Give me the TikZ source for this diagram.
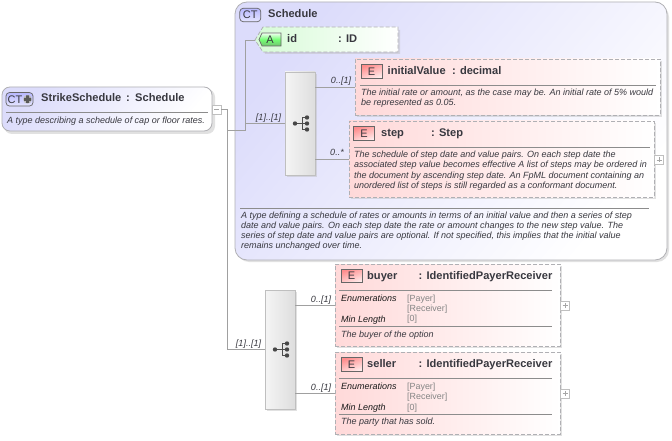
\documentclass[tikz,border=0pt]{standalone}
\usepackage{fontspec}
\setmainfont{Liberation Sans}
\usetikzlibrary{shapes.misc,calc}
\definecolor{edge}{HTML}{B0B0B4}
\definecolor{wire}{HTML}{A0A0A0}
\definecolor{ink}{HTML}{38383F}
\definecolor{lav}{HTML}{DCDCFB}
\definecolor{pinkb}{HTML}{FFD9D9}
\definecolor{mint}{HTML}{D6FBD6}
\tikzset{
 x=1pt,y=-1pt,
 boxbase/.style={anchor=north west,inner sep=0pt,outer sep=0pt},
 shade1/.style={fill=black!28,draw=none,opacity=.42},
 ctbox/.style={boxbase,draw=edge,line width=.8pt,rounded corners=8pt,left color=lav,middle color=lav!70,right color=white,shading angle=50},
 elembox/.style={boxbase,draw=edge,line width=.8pt,dash pattern=on 4pt off 2pt,left color=pinkb,middle color=pinkb!85,right color=white},
 seqbox/.style={boxbase,draw=black!25,line width=.5pt,left color=black!4,right color=black!13},
 wirel/.style={draw=wire,line width=.6pt},
 sep/.style={draw=black!45,line width=.6pt},
 title/.style={anchor=base west,inner sep=0pt,font=\fontsize{11.1}{12}\selectfont\bfseries,text=ink},
 desc/.style={anchor=north west,inner sep=0pt,align=left,font=\fontsize{9}{10.25}\selectfont\itshape,text=ink},
 occ/.style={anchor=base,inner sep=0pt,font=\fontsize{9}{10}\selectfont\itshape,text=ink},
 facet/.style={anchor=base west,inner sep=0pt,font=\fontsize{9}{10}\selectfont\itshape,text=black!90},
 fval/.style={anchor=north west,inner sep=0pt,align=left,font=\fontsize{8.9}{10}\selectfont,text=black!48},
 badge/.style={anchor=center,inner sep=0pt,minimum height=13.5pt,draw=black!60,line width=.7pt,font=\fontsize{11}{12}\selectfont,text=ink},
 ctbadge/.style={badge,rounded corners=3.5pt,top color=blue!28,bottom color=blue!10},
 ebadge/.style={badge,minimum width=21pt,left color=red!45,right color=red!8,shading angle=20},
 expbox/.style={boxbase,draw=black!25,fill=white,line width=.5pt,minimum width=9pt,minimum height=9pt},
}
\newcommand{\seqicon}[2]{%
 \draw[black!70,line width=.8pt] (#1-6,#2) -- (#1+6,#2) (#1+1,#2-6) -- (#1+1,#2+6) (#1+1,#2-6) -- (#1+6,#2-6) (#1+1,#2+6) -- (#1+6,#2+6);
 \fill[black!72] (#1-6,#2) circle[radius=2.2pt] (#1+6,#2-6) circle[radius=2.2pt] (#1+6,#2) circle[radius=2.2pt] (#1+6,#2+6) circle[radius=2.2pt];
}
\newcommand{\expmark}[3]{%
 \node[expbox] (#1) at (#2,#3) {};
 \draw[black!35,line width=.5pt] (#2+2,#3+4.5) -- (#2+7,#3+4.5) (#2+4.5,#3+2) -- (#2+4.5,#3+7);
}
\begin{document}
\begin{tikzpicture}
\useasboundingbox (0,0) rectangle (672,441);
\fill[white] (0,0) rectangle (672,441);
% shadows
\fill[shade1,rounded corners=8pt] (4,89) rectangle (215,134);
\fill[shade1,rounded corners=12pt] (237,5) rectangle (669,262);
\fill[shade1] (337,266) rectangle (562,348);
\fill[shade1] (337,354) rectangle (562,436);
\fill[shade1] (267,292) rectangle (297,411);
% main boxes
\node[ctbox,minimum width=210pt,minimum height=44pt] (strike) at (2,87) {};
\node[ctbox,rounded corners=12pt,minimum width=432pt,minimum height=258pt] (sched) at (235,2) {};
\fill[shade1] (262,30) -- (400,30) -- (400,54) -- (265,54) -- cycle;
\fill[shade1] (287,74) rectangle (317,177);
\node[seqbox,minimum width=30pt,minimum height=103pt] (seqa) at (285,72) {};
\node[seqbox,minimum width=30pt,minimum height=119pt] (seqb) at (265,290) {};
\fill[shade1] (357,61) rectangle (662,117);
\fill[shade1] (351,123) rectangle (656,199);
\node[elembox,minimum width=305pt,minimum height=56pt] (init) at (355,59) {};
\node[elembox,minimum width=305pt,minimum height=76pt] (stepn) at (349,121) {};
\node[elembox,minimum width=225pt,minimum height=82pt] (buyer) at (335,264) {};
\node[elembox,minimum width=225pt,minimum height=82pt] (seller) at (335,352) {};
% id attribute
\coordinate (ida) at (255,40);
\draw[draw=edge,line width=.8pt,dash pattern=on 4pt off 2pt,left color=mint,middle color=mint!70,right color=white]
  (255,40) -- (263,27) -- (398,27) -- (398,52) -- (263,52) -- cycle;
% connectors
\node[expbox] (minus) at (212,105) {};
\draw[black!35,line width=.5pt] (214,109.5) -- (219,109.5);
\coordinate (j1) at (227,109.5);
\coordinate (j2) at (227,130);
\coordinate (j3) at (245.5,130);
\draw[wirel] (minus.east) -- (j1) -- (j1 |- seqb.west);
\draw[wirel] (j1 |- seqb.west) -- (seqb.west);
\draw[wirel] (j2) -- (j3) -- (j3 |- ida) -- (ida);
\draw[wirel] (j3 |- seqa.west) -- (seqa.west);
\coordinate (a1) at (seqa.east |- 0,87);
\coordinate (a2) at (seqa.east |- 0,159);
\draw[wirel] (a1) -- (init.west |- a1);
\draw[wirel] (a2) -- (stepn.west |- a2);
\coordinate (b1) at (seqb.east |- 0,305);
\coordinate (b2) at (seqb.east |- 0,393);
\draw[wirel] (b1) -- (buyer.west |- b1);
\draw[wirel] (b2) -- (seller.west |- b2);
% seq icons
\seqicon{301}{123.5}
\seqicon{281}{349.5}
% expand marks
\expmark{pa}{654.5}{155.5}
\expmark{pb}{560.5}{301}
\expmark{pc}{560.5}{389}
% badges
\node[ctbadge,minimum width=27pt] (bstrike) at (19.5,99.3) {\hspace*{-9pt}CT};
\fill[black!25] (27.5,99.3) circle[radius=4.4pt];
\fill[black!65] (26,95.5) rectangle (29,103) (24,97.8) rectangle (31,100.8);
\node[ctbadge,minimum width=21pt] (bsched) at (250.3,15) {CT};
\node[ebadge] (binit) at (371.5,71.5) {E};
\node[ebadge] (bstep) at (364,133.5) {E};
\node[ebadge] (bbuy) at (351.5,276) {E};
\node[ebadge] (bsel) at (351.5,364.5) {E};
\coordinate (bid) at (270,39.5);
\draw[draw=black!60,line width=.7pt,top color=green!5,bottom color=green!55!black!55,middle color=green!55]
  (259,39.5) -- (262,33) -- (281,33) -- (281,46) -- (262,46) -- cycle;
\node[inner sep=0pt,font=\fontsize{11}{12}\selectfont,text=ink] (bidt) at (bid) {A};
% titles
\node[title] (t1) at (41,101.5) {StrikeSchedule};
\node[title] (t1b) at (126,101.5) {:};
\node[title] (t1c) at (135,101.5) {Schedule};
\node[title] (t2) at (268,17.3) {Schedule};
\node[title] (t3) at (287,42.5) {id};
\node[title] (t3b) at (338,42.5) {: ID};
\node[title] (t4) at (387.5,74.5) {initialValue};
\node[title] (t4b) at (452,74.5) {: decimal};
\node[title] (t5) at (381,136.5) {step};
\node[title] (t5b) at (431,136.5) {: Step};
\node[title] (t6) at (367,279) {buyer};
\node[title] (t6b) at (418.5,279) {: IdentifiedPayerReceiver};
\node[title] (t7) at (367,367) {seller};
\node[title] (t7b) at (418.5,367) {: IdentifiedPayerReceiver};
% separators
\draw[sep] (6,112) -- (208,112);
\draw[sep] (240,208) -- (649,208);
\draw[sep] (360,85) -- (656,85);
\draw[sep] (354,147) -- (650,147);
\draw[sep] (339,290) -- (552,290);
\draw[sep] (339,326) -- (552,326);
\draw[sep] (339,378) -- (552,378);
\draw[sep] (339,414) -- (552,414);
% descriptions
\node[desc] (d1) at (7,117) {A type describing a schedule of cap or floor rates.};
\node[desc] (d2) at (361,89) {The initial rate or amount, as the case may be. An initial rate of 5\% would\\be represented as 0.05.};
\node[desc] (d3) at (354,151) {The schedule of step date and value pairs. On each step date the\\associated step value becomes effective A list of steps may be ordered in\\the document by ascending step date. An FpML document containing an\\unordered list of steps is still regarded as a conformant document.};
\node[desc] (d4) at (241,211.5) {A type defining a schedule of rates or amounts in terms of an initial value and then a series of step\\date and value pairs. On each step date the rate or amount changes to the new step value. The\\series of step date and value pairs are optional. If not specified, this implies that the initial value\\remains unchanged over time.};
\node[desc] (d5) at (341,330.5) {The buyer of the option};
\node[desc] (d6) at (341,418) {The party that has sold.};
% facets
\node[facet] (f1) at (341,301) {Enumerations};
\node[facet] (f2) at (341,322) {Min Length};
\node[fval] (v1) at (407,294.5) {{[Payer]}\\{[Receiver]}};
\node[fval] (v2) at (407,315) {{[0]}};
\node[facet] (f3) at (341,389) {Enumerations};
\node[facet] (f4) at (341,410) {Min Length};
\node[fval] (v3) at (407,382.5) {{[Payer]}\\{[Receiver]}};
\node[fval] (v4) at (407,403.5) {{[0]}};
% occurrences
\node[occ] (o1) at (268.5,120.5) {[1]..[1]};
\node[occ] (o2) at (341,84) {0..[1]};
\node[occ] (o3) at (337,156) {0..*};
\node[occ] (o4) at (248.5,346.5) {[1]..[1]};
\node[occ] (o5) at (321,302) {0..[1]};
\node[occ] (o6) at (321,390) {0..[1]};
\end{tikzpicture}
\end{document}
